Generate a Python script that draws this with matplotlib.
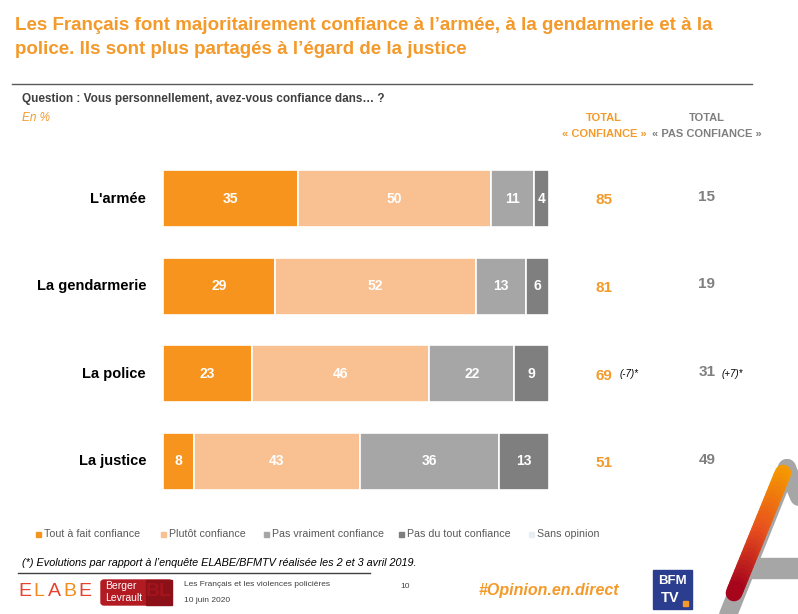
import numpy as np
import matplotlib.pyplot as plt
from matplotlib.patches import Rectangle, FancyBboxPatch
from matplotlib.collections import LineCollection

plt.rcParams['font.family'] = ['Liberation Sans', 'DejaVu Sans']

# Données
institutions = ["L'armée", "La gendarmerie", "La police", "La justice"]
tout_a_fait = [35, 29, 23, 8]
plutot = [50, 52, 46, 43]
pas_vraiment = [11, 13, 22, 36]
pas_du_tout = [4, 6, 9, 13]
evol_confiance = ["", "", "(-7)*", ""]
evol_pas_confiance = ["", "", "(+7)*", ""]

legende = ["Tout à fait confiance", "Plutôt confiance", "Pas vraiment confiance",
           "Pas du tout confiance", "Sans opinion"]
couleurs = ["#F7941D", "#F9C091", "#A6A6A6", "#7F7F7F", "#E9EEF4"]

ORANGE = "#F39A2B"
GRIS_TXT = "#7F7F7F"

W, H = 798, 614
fig = plt.figure(figsize=(W / 100, H / 100), dpi=100)


def fx(px):
    return px / W


def fy(py):
    return 1 - py / H


# Titre
fig.text(fx(15), fy(25), "Les Français font majoritairement confiance à l’armée, à la gendarmerie et à la",
         color=ORANGE, fontsize=13.5, fontweight='bold', va='center')
fig.text(fx(15), fy(50), "police. Ils sont plus partagés à l’égard de la justice",
         color=ORANGE, fontsize=13.5, fontweight='bold', va='center')
fig.add_artist(plt.Line2D([fx(12), fx(752)], [fy(84), fy(84)], color="#595959", lw=1))
fig.text(fx(22), fy(99), "Question : Vous personnellement, avez-vous confiance dans… ?",
         color="#404040", fontsize=8.5, fontweight='bold', va='center')
fig.text(fx(22), fy(118), "En %", color=ORANGE, fontsize=8.5, style='italic', va='center')

# Barres
ax = fig.add_axes([fx(163), fy(500), fx(549) - fx(163), (500 - 160) / H])
y = np.arange(len(institutions))
series = [tout_a_fait, plutot, pas_vraiment, pas_du_tout]
gauche = np.zeros(len(institutions))
for vals, c in zip(series, couleurs):
    vals = np.array(vals)
    ax.barh(y, vals, left=gauche, height=0.65, color=c, edgecolor='white', linewidth=1.2)
    for yi, (g, v) in enumerate(zip(gauche, vals)):
        ax.text(g + v / 2, yi, str(v), color='white', fontsize=10, fontweight='bold',
                ha='center', va='center')
    gauche += vals

ax.set_xlim(0, 100)
ax.set_ylim(3.44, -0.44)
ax.axis('off')

for yi, nom in enumerate(institutions):
    ax.text(-4.4, yi, nom, ha='right', va='center', fontsize=10.5, fontweight='bold', color='black')


def dx(px):
    return (px - 163) / 386 * 100


conf = np.array(tout_a_fait) + np.array(plutot)
pas_conf = np.array(pas_vraiment) + np.array(pas_du_tout)
for yi in range(len(institutions)):
    ax.text(dx(604), yi + 0.02, str(conf[yi]), ha='center', va='center', color=ORANGE,
            fontsize=11, fontweight='bold', clip_on=False)
    ax.text(dx(707), yi - 0.02, str(pas_conf[yi]), ha='center', va='center', color=GRIS_TXT,
            fontsize=11, fontweight='bold', clip_on=False)
    if evol_confiance[yi]:
        ax.text(dx(620), yi, evol_confiance[yi], ha='left', va='center', fontsize=7,
                style='italic', color='black', clip_on=False)
    if evol_pas_confiance[yi]:
        ax.text(dx(722), yi, evol_pas_confiance[yi], ha='left', va='center', fontsize=7,
                style='italic', color='black', clip_on=False)

fig.text(fx(604), fy(118), "TOTAL", color=ORANGE, fontsize=8, fontweight='bold', ha='center', va='center')
fig.text(fx(604), fy(134), "« CONFIANCE »", color=ORANGE, fontsize=8, fontweight='bold', ha='center', va='center')
fig.text(fx(707), fy(118), "TOTAL", color=GRIS_TXT, fontsize=8, fontweight='bold', ha='center', va='center')
fig.text(fx(707), fy(134), "« PAS CONFIANCE »", color=GRIS_TXT, fontsize=8, fontweight='bold', ha='center', va='center')

# Légende
leg_x = [38, 163, 266, 401, 531]
for lx, lab, c in zip(leg_x, legende, couleurs):
    fig.add_artist(Rectangle((fx(lx - 2), fy(537)), 5 / W, 5 / H, color=c, transform=fig.transFigure))
    fig.text(fx(lx + 6), fy(534), lab, color="#595959", fontsize=7.7, va='center')

# Note
fig.text(fx(22), fy(563), "(*) Evolutions par rapport à l’enquête ELABE/BFMTV réalisée les 2 et 3 avril 2019.",
         color='black', fontsize=7.8, style='italic', va='center')
fig.add_artist(plt.Line2D([fx(18), fx(370)], [fy(573), fy(573)], color="#404040", lw=1))

# Pied de page
elabe_cols = ["#E8412C", "#F28C1E", "#E8412C", "#F28C1E", "#E8412C"]
for i, (ch, c) in enumerate(zip("ELABE", elabe_cols)):
    fig.text(fx(18 + i * 15), fy(592), ch, color=c, fontsize=14, va='center')
fig.add_artist(FancyBboxPatch((fx(101), fy(605)), 71 / W, 25 / H, boxstyle="round,pad=0,rounding_size=0.004",
                              color="#B31B23", transform=fig.transFigure))
fig.add_artist(Rectangle((fx(146), fy(605)), 26 / W, 25 / H, color="#8C1018", transform=fig.transFigure))
fig.text(fx(159), fy(592), "BL", color="#A3141D", fontsize=14, fontweight='bold', ha='center', va='center')
fig.text(fx(105), fy(586), "Berger", color='white', fontsize=7.5, va='center')
fig.text(fx(105), fy(598), "Levrault", color='white', fontsize=7.5, va='center')
fig.text(fx(184), fy(584), "Les Français et les violences policières", color="#404040", fontsize=6, va='center')
fig.text(fx(184), fy(601), "10 juin 2020", color="#404040", fontsize=6, va='center')
fig.text(fx(400), fy(586), "10", color="#404040", fontsize=6, va='center')
fig.text(fx(478), fy(590), "#Opinion.en.direct", color=ORANGE, fontsize=11.5, fontweight='bold',
         style='italic', va='center')

# Logo BFM TV
fig.add_artist(Rectangle((fx(653), fy(609)), 39 / W, 39 / H, color="#2B3D8E", transform=fig.transFigure))
fig.text(fx(672), fy(581), "BFM", color='white', fontsize=9.5, fontweight='bold', ha='center', va='center')
fig.text(fx(670), fy(598), "TV", color='white', fontsize=10.5, fontweight='bold', ha='center', va='center')
fig.add_artist(Rectangle((fx(683), fy(606)), 5 / W, 5 / H, color="#F39A2B", transform=fig.transFigure))

# Décor « A »
deco = fig.add_axes([0, 0, 1, 1], zorder=-1)
deco.set_xlim(0, W)
deco.set_ylim(H, 0)
deco.axis('off')
deco.plot([787, 722], [468, 630], color="#A6A6A6", lw=13, solid_capstyle='round')
deco.plot([787, 850], [468, 620], color="#A6A6A6", lw=13, solid_capstyle='round')
deco.add_patch(Rectangle((750, 558), 60, 20, color="#A6A6A6"))
t = np.linspace(0, 1, 30)
xs = 783 + (734 - 783) * t
ys = 473 + (593 - 473) * t
segs = [[(xs[i], ys[i]), (xs[i + 1], ys[i + 1])] for i in range(len(t) - 1)]
cols = plt.cm.colors.LinearSegmentedColormap.from_list("a", ["#F59A00", "#E8511E", "#A3001C"])(t[:-1])
deco.add_collection(LineCollection(segs, colors=cols, linewidths=12, capstyle='round'))

fig.savefig("out.png", dpi=100)
